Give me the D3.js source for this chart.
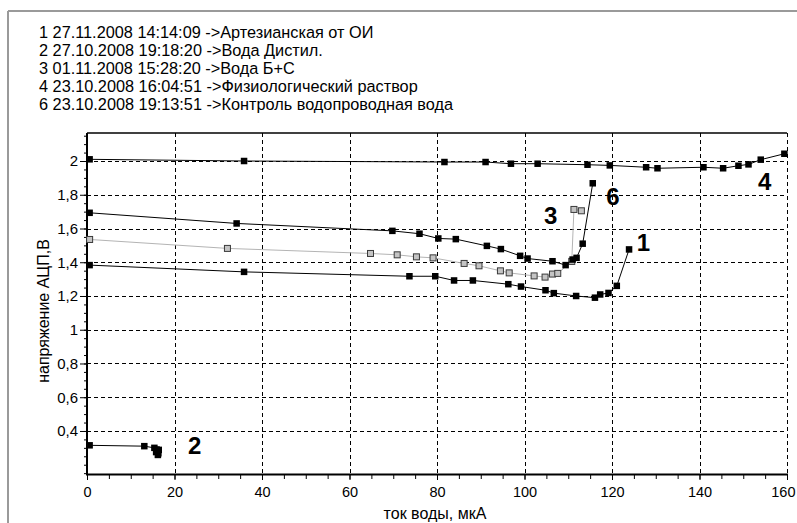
<!DOCTYPE html>
<html><head><meta charset="utf-8">
<script src="https://cdn.jsdelivr.net/npm/d3@7"></script>
<style>
html,body{margin:0;padding:0;background:#fff;}
svg{display:block;font-family:"Liberation Sans",Arial,sans-serif;}
</style></head>
<body><svg id="c" width="797" height="523"></svg>
<script>
// ---- data ----
const legendLines = [
  "1 27.11.2008 14:14:09 ->Артезианская от ОИ",
  "2 27.10.2008 19:18:20 ->Вода Дистил.",
  "3 01.11.2008 15:28:20 ->Вода Б+С",
  "4 23.10.2008 16:04:51 ->Физиологический раствор",
  "6 23.10.2008 19:13:51 ->Контроль водопроводная вода"
];
const xTicks = [0,20,40,60,80,100,120,140,160];
const yTicks = [0.4,0.6,0.8,1.0,1.2,1.4,1.6,1.8,2.0];
const xLabel = "ток воды, мкА";
const yLabel = "напряжение АЦП,В";

const s1X = [0.6,35.9,73.7,79.6,83.9,88.2,96.3,99.2,104.8,106.7,111.8,116.1,117.3,119.2,121.1,123.9];
const s1Y = [1.383,1.343,1.317,1.317,1.292,1.292,1.27,1.256,1.234,1.217,1.2,1.19,1.209,1.218,1.26,1.476];
const s2X = [0.6,13.1,15.4,15.9,16.4,15.8,16.3,16.2];
const s2Y = [0.315,0.31,0.30,0.29,0.288,0.275,0.268,0.258];
const s3X = [0.6,32.1,64.8,70.9,75.3,79.1,86.2,89.6,94.5,96.5,102.2,104.7,106.4,107.6,110.8,111.3,113.0];
const s3Y = [1.535,1.482,1.452,1.444,1.432,1.426,1.393,1.379,1.349,1.337,1.319,1.312,1.33,1.334,1.405,1.713,1.705];
const s4X = [0.6,35.9,81.7,91.1,96.9,103,114.4,119.5,127.8,130.4,140.9,145.4,148.9,151.2,154,159.4];
const s4Y = [2.01,2.0,1.994,1.994,1.984,1.984,1.978,1.974,1.963,1.957,1.963,1.957,1.972,1.98,2.008,2.043];
const s6X = [0.6,34.2,69.8,76,80.3,84.3,91.4,94.6,99,100.7,106.4,109.4,111,111.9,113.3,115.6];
const s6Y = [1.693,1.63,1.586,1.569,1.541,1.537,1.497,1.478,1.438,1.422,1.406,1.383,1.416,1.426,1.51,1.868];

const seriesNames = ["1","2","3","4","6"];
const labelX = [127.2,24.6,106.0,154.9,120.2];
const labelY = [1.516,0.312,1.68,1.88,1.79];

// ---- drawing ----
const svg = d3.select("#c");
const L = 87, R = 787, T = 133, B = 474;
const x = d3.scaleLinear().domain([0,160]).range([L,R]);
const y = d3.scaleLinear().domain([0.145,2.166]).range([B,T]);

// outer frame
svg.append("line").attr("x1",8).attr("x2",797).attr("y1",11).attr("y2",11).attr("stroke","#9a9a9a").attr("stroke-width",2);
svg.append("line").attr("x1",8).attr("x2",8).attr("y1",11).attr("y2",523).attr("stroke","#9a9a9a").attr("stroke-width",2);

// legend
svg.append("g").selectAll("text").data(legendLines).join("text")
  .attr("x",39).attr("y",(d,i)=>32+i*18.1).attr("dy","0.35em")
  .attr("font-size",16.3).attr("fill","#000").text(d=>d);

// grid
const grid = svg.append("g").attr("stroke","#000").attr("stroke-width",1).attr("stroke-dasharray","4,3");
grid.selectAll("line.gx").data(xTicks.filter(v=>v>0)).join("line")
  .attr("x1",d=>Math.round(x(d))+0.5).attr("x2",d=>Math.round(x(d))+0.5).attr("y1",T).attr("y2",B);
grid.selectAll("line.gy").data(yTicks).join("line")
  .attr("x1",L).attr("x2",R).attr("y1",d=>Math.round(y(d))+0.5).attr("y2",d=>Math.round(y(d))+0.5);

// top border
svg.append("line").attr("x1",L).attr("x2",R).attr("y1",T).attr("y2",T).attr("stroke","#000").attr("stroke-width",1.5);

const fmt = d => String(+d.toFixed(1)).replace(".",",");

// axes
const xMinor = d3.range(0,160.1,5);
const yMinor = d3.range(0.15,2.16,0.05);
svg.append("g").attr("transform",`translate(0,${B})`)
  .call(d3.axisBottom(x).tickValues(xMinor).tickSize(5).tickFormat(""))
  .call(g=>g.select(".domain").remove());
const gx = svg.append("g").attr("transform",`translate(0,${B})`)
  .call(d3.axisBottom(x).tickValues(xTicks).tickSize(6).tickPadding(7).tickFormat(d=>d));
gx.select(".domain").attr("stroke-width",2).attr("d",`M${L-1},0.5H${R+1}`);
gx.selectAll("text").attr("font-size",14.5).attr("font-family","Liberation Sans, Arial, sans-serif").attr("fill","#000");
gx.selectAll(".tick").filter(d=>d===160).select("text").attr("text-anchor","end").attr("x",8);

svg.append("g").attr("transform",`translate(${L},0)`)
  .call(d3.axisLeft(y).tickValues(yMinor).tickSize(3).tickFormat(""))
  .call(g=>g.select(".domain").remove());
const gy = svg.append("g").attr("transform",`translate(${L},0)`)
  .call(d3.axisLeft(y).tickValues(yTicks).tickSize(7).tickPadding(2).tickFormat(fmt));
gy.select(".domain").attr("stroke-width",2).attr("d",`M0,${T}V${B+1}`);
gy.selectAll("text").attr("font-size",15).attr("font-family","Liberation Sans, Arial, sans-serif").attr("fill","#000");

// axis titles
svg.append("text").attr("x",(L+R)/2-2).attr("y",513).attr("dy","0.35em").attr("text-anchor","middle")
  .attr("font-size",16).text(xLabel);
svg.append("text").attr("transform","translate(43,311) rotate(-90)").attr("dy","0.35em").attr("text-anchor","middle")
  .attr("font-size",16).text(yLabel);

// series
const line = d3.line().x(d=>x(d[0])).y(d=>y(d[1]));
function drawSeries(xs, ys, opt){
  const pts = xs.map((v,i)=>[v,ys[i]]);
  const g = svg.append("g");
  g.append("path").datum(pts).attr("d",line).attr("fill","none")
    .attr("stroke",opt.line).attr("stroke-width",1);
  g.selectAll("rect").data(pts).join("rect")
    .attr("x",d=>x(d[0])-opt.size/2).attr("y",d=>y(d[1])-opt.size/2)
    .attr("width",opt.size).attr("height",opt.size)
    .attr("fill",opt.fill).attr("stroke",opt.stroke).attr("stroke-width",opt.sw);
}
drawSeries(s3X,s3Y,{line:"#b4b4b4",fill:"#c4c4c4",stroke:"#3a3a3a",sw:1,size:6});
drawSeries(s1X,s1Y,{line:"#000",fill:"#000",stroke:"none",sw:0,size:6.5});
drawSeries(s4X,s4Y,{line:"#000",fill:"#000",stroke:"none",sw:0,size:6.5});
drawSeries(s6X,s6Y,{line:"#000",fill:"#000",stroke:"none",sw:0,size:6.5});
drawSeries(s2X,s2Y,{line:"#000",fill:"#000",stroke:"none",sw:0,size:6.5});

// series labels
svg.append("g").selectAll("text").data(seriesNames).join("text")
  .attr("x",(d,i)=>x(labelX[i])).attr("y",(d,i)=>y(labelY[i])).attr("dy","0.36em")
  .attr("text-anchor","middle").attr("font-size",24).attr("font-weight","bold").text(d=>d);
</script></body></html>
